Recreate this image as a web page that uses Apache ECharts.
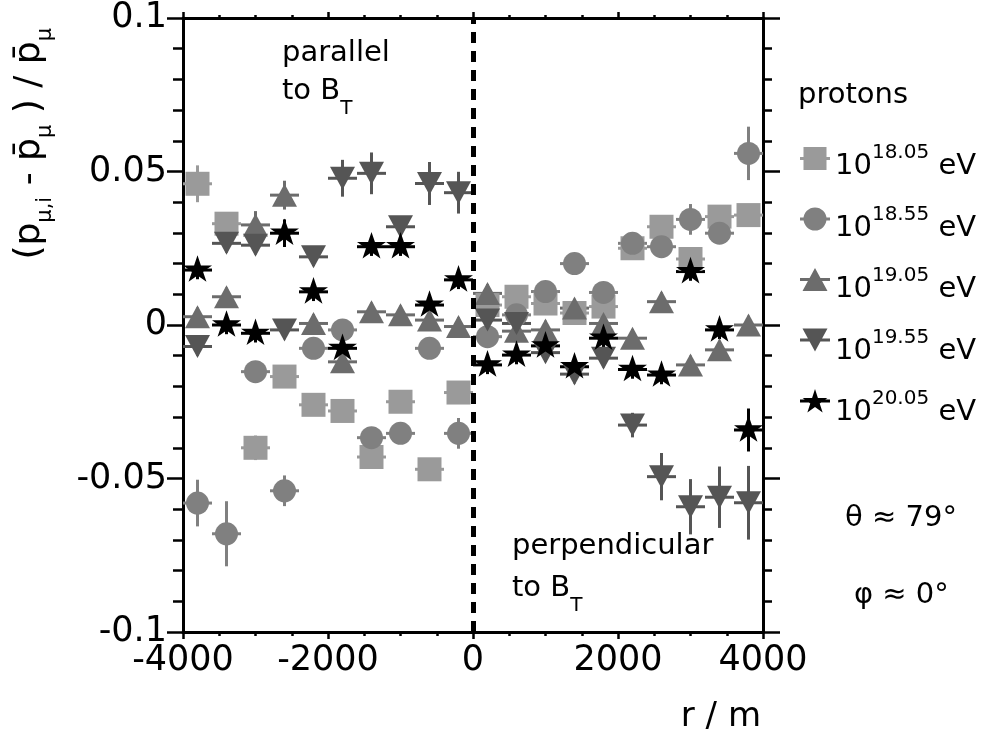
<!DOCTYPE html>
<html>
<head>
<meta charset="utf-8">
<script src="https://cdn.jsdelivr.net/npm/echarts@6/dist/echarts.min.js"></script>
<style>
  html, body { margin: 0; padding: 0; background: #fff; }
  #chart { width: 990px; height: 740px; }
</style>
</head>
<body>
<div id="chart"></div>
<script>
// distance to the core, bin centres (m)
const r = [-3800, -3400, -3000, -2600, -2200, -1800, -1400, -1000, -600, -200,
           200, 600, 1000, 1400, 1800, 2200, 2600, 3000, 3400, 3800];
const binHalf = 200;
const energies = ['18.05', '18.55', '19.05', '19.55', '20.05'];

// relative deviation (p_mu,i - pbar_mu) / pbar_mu and its error
const dev1805 = [0.046, 0.033, -0.040, -0.0168, -0.026, -0.028, -0.043, -0.025, -0.047, -0.022,
                 0.0065, 0.0092, 0.007, 0.0039, 0.006, 0.025, 0.032, 0.0215, 0.0353, 0.0358];
const err1805 = [0.006, 0.003, 0.004, 0.003, 0.003, 0.003, 0.003, 0.003, 0.003, 0.003,
                 0.003, 0.003, 0.003, 0.003, 0.003, 0.003, 0.003, 0.003, 0.003, 0.003];
const dev1855 = [-0.058, -0.068, -0.0152, -0.054, -0.0076, -0.0016, -0.0367, -0.0353, -0.0076, -0.0353,
                 -0.0038, 0.0033, 0.0109, 0.020, 0.0106, 0.0266, 0.0255, 0.0344, 0.0299, 0.0559];
const err1855 = [0.0076, 0.0106, 0.003, 0.005, 0.003, 0.003, 0.003, 0.003, 0.003, 0.005,
                 0.003, 0.003, 0.003, 0.003, 0.003, 0.003, 0.003, 0.005, 0.003, 0.0087];
const dev1905 = [0.0027, 0.0092, 0.0326, 0.0423, 0.0005, -0.012, 0.0043, 0.0033, 0.0016, -0.0005,
                 0.0103, -0.002, -0.0016, 0.0055, 0.0005, -0.0043, 0.0076, -0.013, -0.0081, 0.0];
const err1905 = [0.003, 0.003, 0.0045, 0.0047, 0.003, 0.003, 0.003, 0.003, 0.003, 0.003,
                 0.003, 0.003, 0.003, 0.003, 0.003, 0.003, 0.003, 0.003, 0.003, 0.003];
const dev1955 = [-0.007, 0.0266, 0.026, -0.0016, 0.0222, 0.0478, 0.0494, 0.032, 0.0461, 0.0431,
                 0.0016, 0.0005, -0.009, -0.016, -0.0108, -0.0326, -0.0494, -0.0592, -0.0561, -0.0579];
const err1955 = [0.003, 0.003, 0.003, 0.003, 0.003, 0.006, 0.0068, 0.003, 0.007, 0.0068,
                 0.003, 0.003, 0.003, 0.003, 0.003, 0.004, 0.0077, 0.009, 0.010, 0.012];
const dev2005 = [0.0179, 0.0, -0.0027, 0.0299, 0.0108, -0.0076, 0.0255, 0.0255, 0.0065, 0.0147,
                 -0.013, -0.0098, -0.0068, -0.0136, -0.0043, -0.0145, -0.0163, 0.0174, -0.0016, -0.0342];
const err2005 = [0.003, 0.003, 0.003, 0.0045, 0.003, 0.003, 0.003, 0.003, 0.003, 0.003,
                 0.003, 0.003, 0.003, 0.003, 0.003, 0.003, 0.003, 0.003, 0.003, 0.007];

const xTicks = [-4000, -2000, 0, 2000, 4000];
const yTicks = [-0.1, -0.05, 0, 0.05, 0.1];

const devs = [dev1805, dev1855, dev1905, dev1955, dev2005];
const errs = [err1805, err1855, err1905, err1955, err2005];

const F = 'DejaVu Sans';
const STAR = 'path://M100,0 L122.45,69.1 L195.1,69.1 L136.3,111.8 L158.8,180.9 L100,138.2 L41.2,180.9 L63.7,111.8 L4.9,69.1 L77.55,69.1 Z';
const BAR = 'M0,10.5 L30,10.5 L30,13.5 L0,13.5 Z ';
const styles = [
  { color: '#9a9a9a', symbol: 'rect', size: 24, rot: 0, off: [0, 0],
    icon: 'path://' + BAR + 'M3.5,0.5 L26.5,0.5 L26.5,23.5 L3.5,23.5 Z' },
  { color: '#808080', symbol: 'circle', size: 23, rot: 0, off: [0, 0],
    icon: 'path://' + BAR + 'M3.5,12 A11.5,11.5 0 1 1 26.5,12 A11.5,11.5 0 1 1 3.5,12 Z' },
  { color: '#6c6c6c', symbol: 'triangle', size: [25, 23], rot: 0, off: [0, 0],
    icon: 'path://' + BAR + 'M15,0.5 L27.5,23.5 L2.5,23.5 Z' },
  { color: '#555555', symbol: 'triangle', size: [25, 23], rot: 180, off: [0, 0],
    icon: 'path://' + BAR + 'M2.5,0.5 L27.5,0.5 L15,23.5 Z' },
  { color: '#000000', symbol: STAR, size: [29, 28], rot: 0, off: [0, -1.5],
    icon: 'path://' + BAR + 'M15,0 L17.92,8.98 L27.36,8.98 L19.72,14.53 L22.64,23.52 L15,17.97 L7.36,23.52 L10.28,14.53 L2.64,8.98 L12.08,8.98 Z' }
];

function errorBars(color) {
  return function (params, api) {
    const x = api.value(0), y = api.value(1), ey = api.value(2), ex = api.value(3);
    const c = api.coord([x, y]);
    const lo = api.coord([x, y - ey]), hi = api.coord([x, y + ey]);
    const le = api.coord([x - ex, y]), ri = api.coord([x + ex, y]);
    const st = { stroke: color, lineWidth: 3 };
    return {
      type: 'group',
      children: [
        { type: 'line', shape: { x1: c[0], y1: lo[1], x2: c[0], y2: hi[1] }, style: st },
        { type: 'line', shape: { x1: le[0], y1: c[1], x2: ri[0], y2: c[1] }, style: st }
      ]
    };
  };
}

const series = [];
energies.forEach(function (e, k) {
  const s = styles[k];
  series.push({
    type: 'custom',
    renderItem: errorBars(s.color),
    encode: { x: 0, y: 1 },
    data: r.map(function (x, i) { return [x, devs[k][i], errs[k][i], binHalf]; }),
    silent: true
  });
  series.push({
    name: e,
    type: 'scatter',
    symbol: s.symbol,
    symbolSize: s.size,
    symbolRotate: s.rot,
    symbolOffset: s.off,
    symbolKeepAspect: true,
    itemStyle: { color: s.color, opacity: 1 },
    data: r.map(function (x, i) { return [x, devs[k][i]]; })
  });
});
// dashed separator at r = 0
series.push({
  type: 'line',
  data: [],
  z: 5,
  markLine: {
    silent: true,
    symbol: 'none',
    label: { show: false },
    lineStyle: { color: '#000', width: 5, type: [11, 8] },
    data: [{ xAxis: 0 }]
  }
});

const axisCommon = {
  type: 'value',
  axisLine: { onZero: false, lineStyle: { color: '#000', width: 3 } },
  splitLine: { show: false }
};
const plain = function (v) { return String(v); };

// legend labels with superscript exponent
const legendTop = 147, legendStep = 61.5;
const legendLabels = energies.map(function (e, k) {
  return {
    type: 'text', x: 835, y: legendTop + 12 + 19 - 35 + k * legendStep,
    style: {
      text: '{b|10}{s|' + e + '}{b| eV}', verticalAlign: 'top',
      rich: {
        b: { fontFamily: F, fontSize: 29, lineHeight: 32, padding: [9, 0, 0, 0], verticalAlign: 'top', fill: '#000' },
        s: { fontFamily: F, fontSize: 20, lineHeight: 20, verticalAlign: 'top', fill: '#000' }
      }
    }
  };
});

const subRich = {
  m: { fontFamily: F, fontSize: 29, lineHeight: 32, verticalAlign: 'top', fill: '#000' },
  t: { fontFamily: F, fontSize: 20, lineHeight: 20, padding: [22, 0, 0, 0], verticalAlign: 'top', fill: '#000' }
};

const myChart = echarts.init(document.getElementById('chart'));
myChart.setOption({
  animation: false,
  backgroundColor: '#fff',
  grid: { left: 183, right: 227, top: 18, bottom: 108 },
  xAxis: [
    Object.assign({}, axisCommon, {
      position: 'bottom',
      min: xTicks[0], max: xTicks[xTicks.length - 1], interval: xTicks[1] - xTicks[0],
      axisTick: { length: 7, lineStyle: { color: '#000', width: 2.5 } },
      minorTick: { show: true, splitNumber: 4, length: 4, lineStyle: { color: '#000', width: 2.5 } },
      axisLabel: { color: '#000', fontFamily: F, fontSize: 35, margin: 11, formatter: plain }
    }),
    Object.assign({}, axisCommon, {
      position: 'top',
      min: xTicks[0], max: xTicks[xTicks.length - 1], interval: xTicks[1] - xTicks[0],
      axisTick: { length: 6, lineStyle: { color: '#000', width: 2.5 } },
      minorTick: { show: true, splitNumber: 4, length: 3, lineStyle: { color: '#000', width: 2.5 } },
      axisLabel: { show: false }
    })
  ],
  yAxis: [
    Object.assign({}, axisCommon, {
      position: 'left',
      min: yTicks[0], max: yTicks[yTicks.length - 1], interval: yTicks[1] - yTicks[0],
      axisTick: { length: 16, lineStyle: { color: '#000', width: 2.5 } },
      minorTick: { show: true, splitNumber: 5, length: 10, lineStyle: { color: '#000', width: 2.5 } },
      axisLabel: { color: '#000', fontFamily: F, fontSize: 35, margin: 16, formatter: plain }
    }),
    Object.assign({}, axisCommon, {
      position: 'right',
      min: yTicks[0], max: yTicks[yTicks.length - 1], interval: yTicks[1] - yTicks[0],
      axisTick: { length: 17, lineStyle: { color: '#000', width: 2.5 } },
      minorTick: { show: true, splitNumber: 5, length: 9, lineStyle: { color: '#000', width: 2.5 } },
      axisLabel: { show: false }
    })
  ],
  legend: {
    orient: 'vertical',
    left: 800,
    top: legendTop,
    padding: 0,
    itemWidth: 30,
    itemHeight: 24,
    itemGap: legendStep - 24,
    selectedMode: false,
    symbolRotate: 0,
    data: energies.map(function (e, k) { return { name: e, icon: styles[k].icon }; }),
    formatter: function () { return ''; },
    textStyle: { fontSize: 8, lineHeight: 8 }
  },
  graphic: legendLabels.concat([
    { type: 'text', x: 282, y: 53, style: { text: 'parallel', fontFamily: F, fontSize: 29, fill: '#000', verticalAlign: 'middle' } },
    { type: 'text', x: 282, y: 77, style: { text: '{m|to B}{t|T}', verticalAlign: 'top', rich: subRich } },
    { type: 'text', x: 512, y: 546, style: { text: 'perpendicular', fontFamily: F, fontSize: 29, fill: '#000', verticalAlign: 'middle' } },
    { type: 'text', x: 512, y: 574, style: { text: '{m|to B}{t|T}', verticalAlign: 'top', rich: subRich } },
    { type: 'text', x: 798, y: 95, style: { text: 'protons', fontFamily: F, fontSize: 29, fill: '#000', verticalAlign: 'middle' } },
    { type: 'text', x: 845, y: 518, style: { text: 'θ ≈ 79°', fontFamily: F, fontSize: 29, fill: '#000', verticalAlign: 'middle' } },
    { type: 'text', x: 854, y: 595, style: { text: 'φ ≈ 0°', fontFamily: F, fontSize: 29, fill: '#000', verticalAlign: 'middle' } },
    { type: 'text', x: 761, y: 717, style: { text: 'r / m', fontFamily: F, fontSize: 34, fill: '#000', align: 'right', verticalAlign: 'middle' } },
    { type: 'text', x: 12, y: 28, rotation: Math.PI / 2, style: {
        text: '{m|(p}{s|μ,i}{m| - p̄}{s|μ}{m| ) / p̄}{s|μ}', align: 'right', verticalAlign: 'top',
        rich: {
          m: { fontFamily: F, fontSize: 36, lineHeight: 38, verticalAlign: 'top', fill: '#000' },
          s: { fontFamily: F, fontSize: 21, lineHeight: 21, padding: [23, 0, 0, 0], verticalAlign: 'top', fill: '#000' }
        } } }
  ]),
  series: series
});
</script>
</body>
</html>
